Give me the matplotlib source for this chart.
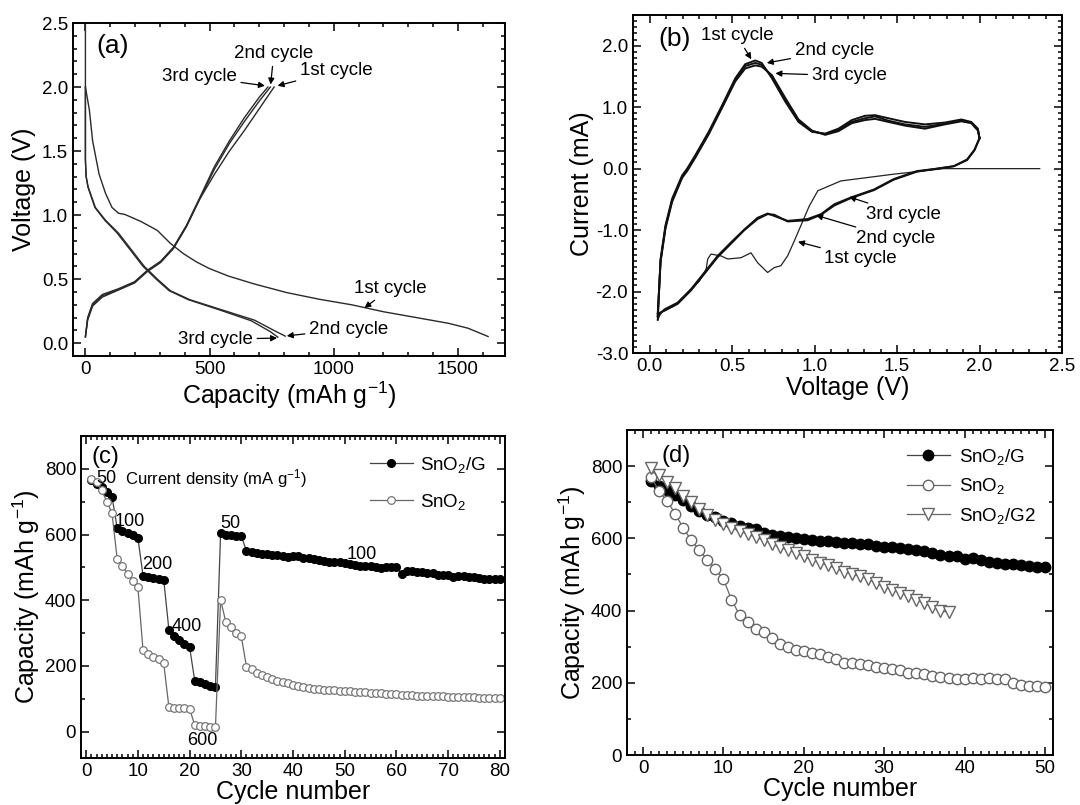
import matplotlib
matplotlib.use("Agg")
import matplotlib.pyplot as plt
from matplotlib.ticker import MultipleLocator, FormatStrFormatter

plt.rcParams['font.family'] = ['Liberation Sans', 'DejaVu Sans']
plt.rcParams['mathtext.fontset'] = 'custom'
plt.rcParams['mathtext.rm'] = 'Liberation Sans'
plt.rcParams['mathtext.default'] = 'regular'

# ---------------- (a) charge / discharge profiles ----------------
cap_dis1 = [0, 0, 16, 29, 55, 81, 107, 133, 159, 224, 290, 342, 394, 446, 498, 576, 681, 811, 942, 1072, 1202, 1333, 1463, 1541, 1622]
v_dis1 = [2.5, 2.0, 1.82, 1.58, 1.32, 1.17, 1.06, 1.015, 1.005, 0.95, 0.88, 0.78, 0.70, 0.636, 0.584, 0.524, 0.462, 0.395, 0.343, 0.30, 0.245, 0.20, 0.155, 0.117, 0.052]
cap_dis2 = [0, 0, 3, 11, 40, 81, 133, 185, 237, 290, 342, 420, 550, 681, 759, 805]
v_dis2 = [2.0, 1.43, 1.30, 1.22, 1.06, 0.96, 0.86, 0.73, 0.60, 0.50, 0.41, 0.34, 0.26, 0.18, 0.10, 0.055]
cap_dis3 = [0, 0, 3, 10, 38, 78, 128, 180, 232, 285, 337, 414, 540, 668, 745, 775]
v_dis3 = [2.0, 1.43, 1.30, 1.22, 1.06, 0.96, 0.86, 0.73, 0.60, 0.50, 0.41, 0.34, 0.26, 0.175, 0.09, 0.047]
cap_ch1 = [0, 9, 29, 68, 133, 198, 250, 303, 355, 407, 459, 520, 580, 640, 700, 760]
v_ch1 = [0.05, 0.18, 0.29, 0.36, 0.415, 0.47, 0.56, 0.63, 0.74, 0.91, 1.12, 1.32, 1.50, 1.66, 1.83, 2.0]
cap_ch2 = [0, 9, 29, 68, 133, 198, 250, 303, 355, 407, 459, 520, 580, 640, 700, 745]
v_ch2 = [0.05, 0.19, 0.30, 0.37, 0.42, 0.475, 0.565, 0.635, 0.745, 0.915, 1.12, 1.36, 1.56, 1.73, 1.89, 2.0]
cap_ch3 = [0, 9, 29, 68, 133, 198, 250, 303, 355, 407, 459, 520, 580, 640, 700, 735]
v_ch3 = [0.05, 0.20, 0.31, 0.38, 0.425, 0.48, 0.57, 0.64, 0.75, 0.92, 1.13, 1.38, 1.58, 1.76, 1.92, 2.0]

# ---------------- (b) cyclic voltammetry ----------------
v_cat1 = [2.365, 1.784, 1.48, 1.16, 1.02, 0.968, 0.917, 0.877, 0.837, 0.796, 0.756, 0.716, 0.655, 0.615, 0.554, 0.474, 0.433, 0.373, 0.353, 0.343, 0.302, 0.232, 0.151, 0.071, 0.05]
i_cat1 = [0, 0, -0.09, -0.20, -0.36, -0.61, -0.93, -1.18, -1.42, -1.58, -1.61, -1.69, -1.53, -1.37, -1.45, -1.47, -1.42, -1.39, -1.47, -1.64, -1.83, -2.02, -2.23, -2.34, -2.46]
v_cat = [2.0, 1.97, 1.925, 1.845, 1.744, 1.62, 1.48, 1.36, 1.22, 1.12, 1.04, 0.958, 0.837, 0.756, 0.716, 0.655, 0.575, 0.494, 0.413, 0.333, 0.252, 0.171, 0.091, 0.05]
i_cat2 = [0.49, 0.31, 0.15, 0.04, 0.0, -0.04, -0.17, -0.34, -0.47, -0.58, -0.74, -0.82, -0.85, -0.77, -0.73, -0.80, -0.99, -1.20, -1.42, -1.69, -1.96, -2.18, -2.29, -2.40]
i_cat3 = [0.50, 0.30, 0.14, 0.04, 0.0, -0.05, -0.18, -0.35, -0.48, -0.60, -0.75, -0.84, -0.86, -0.75, -0.74, -0.82, -1.00, -1.22, -1.44, -1.71, -1.98, -2.20, -2.31, -2.36]
v_an = [0.05, 0.067, 0.097, 0.137, 0.198, 0.228, 0.278, 0.359, 0.44, 0.52, 0.58, 0.641, 0.68, 0.742, 0.823, 0.903, 0.984, 1.065, 1.145, 1.226, 1.306, 1.367, 1.448, 1.548, 1.669, 1.79, 1.89, 1.95, 1.99, 2.0]
i_an1 = [-2.46, -1.47, -0.92, -0.49, -0.11, 0.0, 0.22, 0.60, 1.03, 1.47, 1.70, 1.76, 1.72, 1.47, 1.09, 0.76, 0.60, 0.57, 0.65, 0.79, 0.86, 0.87, 0.82, 0.76, 0.72, 0.75, 0.80, 0.76, 0.65, 0.49]
i_an2 = [-2.40, -1.50, -0.95, -0.52, -0.13, -0.02, 0.20, 0.58, 1.01, 1.45, 1.67, 1.72, 1.69, 1.50, 1.12, 0.78, 0.61, 0.56, 0.63, 0.76, 0.82, 0.85, 0.78, 0.72, 0.68, 0.73, 0.78, 0.75, 0.64, 0.50]
i_an3 = [-2.36, -1.52, -0.97, -0.54, -0.15, -0.04, 0.18, 0.56, 0.99, 1.42, 1.63, 1.68, 1.66, 1.52, 1.15, 0.80, 0.62, 0.55, 0.61, 0.74, 0.79, 0.81, 0.76, 0.70, 0.65, 0.72, 0.77, 0.74, 0.62, 0.50]

# ---------------- (c) rate capability ----------------
cyc_c = list(range(1, 81))
rate_g = [765, 755, 745, 730, 715, 620, 612, 605, 598, 590,
          475, 470, 468, 465, 462, 310, 290, 280, 268, 258,
          155, 150, 145, 140, 137, 605, 600, 598, 597, 596,
          550, 548, 545, 542, 540, 538, 537, 535, 533, 535,
          534, 530, 528, 526, 522, 520, 518, 518, 517, 512,
          510, 507, 505, 505, 503, 500, 497, 500, 502, 502,
          480, 488, 490, 487, 485, 484, 482, 478, 478, 478,
          472, 475, 474, 472, 472, 468, 466, 465, 466, 466]
rate_s = [770, 760, 735, 700, 665, 525, 505, 480, 460, 440,
          248, 235, 228, 220, 208, 75, 73, 72, 71, 70,
          20, 18, 16, 15, 14, 400, 335, 320, 300, 290,
          198, 190, 180, 172, 165, 160, 155, 150, 147, 143,
          140, 137, 133, 131, 130, 128, 127, 126, 125, 124,
          123, 122, 121, 120, 119, 118, 117, 116, 115, 114,
          113, 112, 111, 110, 110, 109, 109, 108, 108, 107,
          107, 106, 106, 105, 105, 104, 104, 103, 103, 102]
rate_labels = ["50", "100", "200", "400", "600", "50", "100"]
rate_label_pos = [(4.0, 770), (8.5, 639), (13.7, 510), (19.5, 320), (22.4, -28), (27.8, 634), (53.3, 538)]

# ---------------- (d) cycling ----------------
cyc_d = list(range(1, 51))
cyc_d2 = list(range(1, 39))
cap_g = [760, 745, 735, 720, 705, 690, 675, 665, 658, 648,
         642, 635, 630, 625, 615, 610, 607, 605, 600, 598,
         596, 594, 592, 590, 588, 586, 585, 583, 580, 577,
         576, 573, 570, 568, 565, 560, 555, 552, 550, 543,
         545, 540, 535, 532, 530, 528, 526, 524, 522, 520]
cap_s = [770, 730, 703, 668, 628, 595, 568, 540, 515, 487,
         430, 388, 368, 350, 340, 325, 308, 298, 292, 288,
         283, 280, 272, 265, 255, 255, 252, 248, 245, 240,
         237, 235, 228, 228, 225, 218, 217, 213, 210, 210,
         213, 210, 213, 210, 210, 200, 193, 190, 190, 188]
cap_g2 = [795, 775, 755, 738, 718, 700, 680, 665, 650, 640,
          630, 620, 612, 603, 595, 585, 575, 568, 560, 550,
          540, 533, 525, 517, 508, 500, 495, 488, 475, 465,
          458, 450, 440, 430, 420, 410, 400, 395]

W, H = 1080, 805
fig = plt.figure(figsize=(W / 100, H / 100), dpi=100)


def box(l, r, t, b):
    return [l / W, 1 - b / H, (r - l) / W, (b - t) / H]


def style(ax):
    ax.tick_params(which='both', direction='in', top=True, right=True, labelsize=13.5, width=1.1)
    ax.tick_params(which='major', length=6)
    ax.tick_params(which='minor', length=3)
    for s in ax.spines.values():
        s.set_linewidth(1.4)


arrow = dict(arrowstyle='-|>', color='k', lw=0.9, mutation_scale=9, shrinkA=1, shrinkB=0)
fs_ann = 13.5

# (a)
ax = fig.add_axes(box(73, 505, 23, 356))
lc = '#2a2a2a'
for x, y in [(cap_dis1, v_dis1), (cap_dis2, v_dis2), (cap_dis3, v_dis3),
             (cap_ch1, v_ch1), (cap_ch2, v_ch2), (cap_ch3, v_ch3)]:
    ax.plot(x, y, color=lc, lw=1.0)
ax.set_xlim(-50, 1690)
ax.set_ylim(-0.1, 2.5)
ax.xaxis.set_major_locator(MultipleLocator(500))
ax.xaxis.set_minor_locator(MultipleLocator(100))
ax.yaxis.set_major_locator(MultipleLocator(0.5))
ax.yaxis.set_minor_locator(MultipleLocator(0.1))
ax.yaxis.set_major_formatter(FormatStrFormatter('%.1f'))
style(ax)
ax.set_xlabel('Capacity (mAh g$^{-1}$)', fontsize=18, labelpad=1)
ax.set_ylabel('Voltage (V)', fontsize=18, labelpad=4)
ax.text(0.055, 0.93, '(a)', transform=ax.transAxes, fontsize=19, va='center')
ax.annotate('2nd cycle', xy=(746, 2.02), xytext=(759, 2.26), ha='center', va='center', fontsize=fs_ann, arrowprops=arrow)
ax.annotate('3rd cycle', xy=(723, 2.01), xytext=(459, 2.08), ha='center', va='center', fontsize=fs_ann, arrowprops=arrow)
ax.annotate('1st cycle', xy=(774, 2.01), xytext=(1010, 2.13), ha='center', va='center', fontsize=fs_ann, arrowprops=arrow)
ax.annotate('1st cycle', xy=(1124, 0.275), xytext=(1229, 0.43), ha='center', va='center', fontsize=fs_ann, arrowprops=arrow)
ax.annotate('2nd cycle', xy=(811, 0.057), xytext=(1060, 0.11), ha='center', va='center', fontsize=fs_ann, arrowprops=arrow)
ax.annotate('3rd cycle', xy=(772, 0.04), xytext=(524, 0.03), ha='center', va='center', fontsize=fs_ann, arrowprops=arrow)

# (b)
ax = fig.add_axes(box(633, 1062, 15, 353))
ax.plot(v_cat1, i_cat1, color='#222', lw=0.9)
ax.plot(v_an, i_an1, color='#111', lw=1.4)
ax.plot(v_cat, i_cat2, color='#111', lw=1.4)
ax.plot(v_an, i_an2, color='#111', lw=1.4)
ax.plot(v_cat, i_cat3, color='#111', lw=1.4)
ax.plot(v_an, i_an3, color='#111', lw=1.4)
ax.set_xlim(-0.1, 2.5)
ax.set_ylim(-3.0, 2.5)
ax.xaxis.set_major_locator(MultipleLocator(0.5))
ax.xaxis.set_minor_locator(MultipleLocator(0.1))
ax.yaxis.set_major_locator(MultipleLocator(1.0))
ax.yaxis.set_minor_locator(MultipleLocator(0.1))
ax.xaxis.set_major_formatter(FormatStrFormatter('%.1f'))
ax.yaxis.set_major_formatter(FormatStrFormatter('%.1f'))
style(ax)
ax.set_xlabel('Voltage (V)', fontsize=18, labelpad=1)
ax.set_ylabel('Current (mA)', fontsize=18, labelpad=1)
ax.text(0.06, 0.93, '(b)', transform=ax.transAxes, fontsize=19, va='center')
ax.annotate('1st cycle', xy=(0.617, 1.78), xytext=(0.53, 2.16), ha='center', va='center', fontsize=fs_ann, arrowprops=arrow)
ax.annotate('2nd cycle', xy=(0.711, 1.72), xytext=(1.12, 1.92), ha='center', va='center', fontsize=fs_ann, arrowprops=arrow)
ax.annotate('3rd cycle', xy=(0.763, 1.55), xytext=(1.21, 1.51), ha='center', va='center', fontsize=fs_ann, arrowprops=arrow)
ax.annotate('3rd cycle', xy=(1.21, -0.46), xytext=(1.54, -0.75), ha='center', va='center', fontsize=fs_ann, arrowprops=arrow)
ax.annotate('2nd cycle', xy=(1.01, -0.76), xytext=(1.49, -1.14), ha='center', va='center', fontsize=fs_ann, arrowprops=arrow)
ax.annotate('1st cycle', xy=(0.90, -1.19), xytext=(1.28, -1.46), ha='center', va='center', fontsize=fs_ann, arrowprops=arrow)

# (c)
ax = fig.add_axes(box(81, 505, 436, 758))
ax.plot(cyc_c, rate_g, '-o', color='#444', lw=0.9, ms=5.5, mfc='k', mec='k', label='SnO$_2$/G')
ax.plot(cyc_c, rate_s, '-o', color='#666', lw=0.9, ms=5.5, mfc='white', mec='#777', mew=0.9, label='SnO$_2$')
ax.set_xlim(-1, 81)
ax.set_ylim(-80, 900)
ax.xaxis.set_major_locator(MultipleLocator(10))
ax.xaxis.set_minor_locator(MultipleLocator(1))
ax.yaxis.set_major_locator(MultipleLocator(200))
ax.yaxis.set_minor_locator(MultipleLocator(100))
style(ax)
ax.set_xlabel('Cycle number', fontsize=18, labelpad=0)
ax.set_ylabel('Capacity (mAh g$^{-1}$)', fontsize=18, labelpad=2)
ax.text(0.025, 0.935, '(c)', transform=ax.transAxes, fontsize=17, va='center')
ax.text(7.5, 770, 'Current density (mA g$^{-1}$)', fontsize=12, va='center')
for t, (x, y) in zip(rate_labels, rate_label_pos):
    ax.text(x, y, t, fontsize=13, ha='center', va='center')
ax.legend(loc='upper right', frameon=False, fontsize=13.5, handlelength=2.3, handletextpad=0.4,
          borderaxespad=0.6, labelspacing=0.9)

# (d)
ax = fig.add_axes(box(627, 1053, 430, 755))
ax.plot(cyc_d, cap_g, '-o', color='#444', lw=0.9, ms=7.5, mfc='k', mec='k', label='SnO$_2$/G')
ax.plot(cyc_d, cap_s, '-o', color='#666', lw=0.9, ms=7.5, mfc='white', mec='#666', mew=1.0, label='SnO$_2$')
ax.plot(cyc_d2, cap_g2, '-v', color='#666', lw=0.9, ms=8, mfc='white', mec='#666', mew=1.0, label='SnO$_2$/G2')
ax.set_xlim(-2, 51)
ax.set_ylim(0, 900)
ax.xaxis.set_major_locator(MultipleLocator(10))
ax.xaxis.set_minor_locator(MultipleLocator(1))
ax.yaxis.set_major_locator(MultipleLocator(200))
ax.yaxis.set_minor_locator(MultipleLocator(100))
style(ax)
ax.set_xlabel('Cycle number', fontsize=18, labelpad=0)
ax.set_ylabel('Capacity (mAh g$^{-1}$)', fontsize=18, labelpad=2)
ax.text(0.08, 0.92, '(d)', transform=ax.transAxes, fontsize=17, va='center')
ax.legend(loc='upper right', frameon=False, fontsize=13.5, handlelength=2.3, handletextpad=0.5,
          borderaxespad=0.5, labelspacing=0.5)

fig.savefig('out.png', dpi=100)
